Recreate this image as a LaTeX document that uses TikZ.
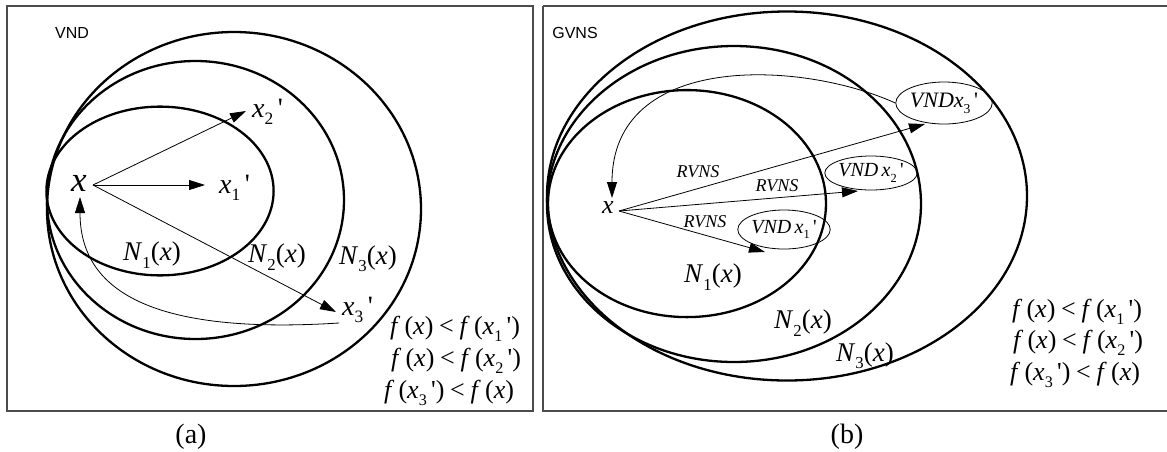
\documentclass[tikz,border=0pt]{standalone}
\usepackage{fontspec}
\usepackage{graphicx}
\setmainfont{Liberation Serif}
\newfontfamily\arialf{Liberation Sans}
\usetikzlibrary{arrows.meta,shapes.geometric}
\newcommand{\ix}{\textit{x}}
\newcommand{\ff}{\textit{f}}
\newcommand{\pr}{\textquotesingle}
\newcommand{\sbs}[1]{\raisebox{-0.27em}{\scalebox{0.62}{#1}}}
\newcommand{\fs}[1]{\fontsize{#1}{#1}\selectfont}
\newcommand{\lt}{\hspace{0.22em}<\hspace{0.22em}}
\begin{document}
\begin{tikzpicture}[x=1pt,y=-1pt,
  panel/.style={draw=black!70, line width=1.3pt},
  nbhd/.style={draw=black, line width=2.3pt},
  arr/.style={draw=black, line width=0.8pt, -{Triangle[length=16pt,width=10pt]}},
  lab/.style={inner sep=0pt, font=\fs{27}},
  form/.style={inner sep=0pt, font=\fs{26}},
  ttl/.style={inner sep=0pt, font=\arialf\fs{16}},
  captxt/.style={inner sep=0pt, font=\fs{28}},
  vnd/.style={draw=black, line width=0.8pt, ellipse, inner sep=0pt, minimum width=73pt, minimum height=39pt, font=\fs{20}},
  rvns/.style={inner sep=0pt, font=\itshape\fs{18}}]
\useasboundingbox (0,0) rectangle (1167,451);
% ---------- panel (a)
\draw[panel] (7,6) rectangle (533,411);
\node[ttl] (vndt) at (72,33) {VND};
\draw[nbhd] (234,209) ellipse [x radius=187pt, y radius=177pt];
\draw[nbhd] (195.5,200) ellipse [x radius=148.5pt, y radius=139pt];
\draw[nbhd] (160,191) ellipse [x radius=113.6pt, y radius=84.4pt];
\node[inner sep=0pt, font=\fs{35}] (ax) at (79,183) {\ix};
\coordinate (ax0) at (93,185);
\coordinate (ax1t) at (205,185);
\coordinate (ax2t) at (246,111);
\coordinate (ax3t) at (336,312);
\coordinate (ax3s) at (339,323);
\coordinate (axr) at (80,197);
\node[inner sep=0pt, font=\fs{28}, anchor=west] (ax1) at (219,188) {\ix\sbs{1}\,\pr};
\node[inner sep=0pt, font=\fs{28}, anchor=west] (ax2) at (252,112) {\ix\sbs{2}\,\pr};
\node[inner sep=0pt, font=\fs{28}, anchor=west] (ax3) at (342,310) {\ix\sbs{3}\,\pr};
\draw[arr] (ax0) -- (ax1t);
\draw[arr] (ax0) -- (ax2t);
\draw[arr] (ax0) -- (ax3t);
\draw[arr] (ax3s) .. controls (150,335) and (80,290) .. (axr);
\node[lab] (an1) at (152,255) {\textit{N}\sbs{1}(\ix)};
\node[lab] (an2) at (277,257) {\textit{N}\sbs{2}(\ix)};
\node[lab] (an3) at (368,259) {\textit{N}\sbs{3}(\ix)};
\node[form] (af1) at (455,329) {\ff\,(\ix)\lt\ff\,(\ix\sbs{1}\,\pr)};
\node[form] (af2) at (456,361) {\ff\,(\ix)\lt\ff\,(\ix\sbs{2}\,\pr)};
\node[form] (af3) at (449,393) {\ff\,(\ix\sbs{3}\,\pr)\lt\ff\,(\ix)};
\node[captxt] (capa) at (191,437) {(a)};
% ---------- panel (b)
\draw[panel] (543,6) -- (1169,6) (543,6) -- (543,411) -- (1169,411);
\node[ttl] (gvt) at (575,33) {GVNS};
\draw[nbhd] (787,196) ellipse [x radius=240pt, y radius=184.5pt];
\draw[nbhd] (734,204) ellipse [x radius=187pt, y radius=158pt];
\draw[nbhd] (687,203.6) ellipse [x radius=139pt, y radius=113.5pt];
\node[inner sep=0pt, font=\fs{26}] (bx) at (608,208) {\ix};
\coordinate (bx0) at (619,211);
\coordinate (bxr) at (612,198);
\node[vnd, minimum width=75pt, minimum height=42pt, font=\fs{22}] (v3) at (944,103) {\textit{VNDx}\sbs{3}\,\pr};
\node[vnd, minimum height=34pt] (v2) at (871,173) {\textit{VND\,x}\sbs{2}\,\pr};
\node[vnd] (v1) at (784,229.5) {\textit{VND\,x}\sbs{1}\,\pr};
\coordinate (b3t) at (925,124);
\coordinate (b2t) at (858,191);
\coordinate (b1t) at (765,252);
\draw[arr] (bx0) -- (b3t);
\draw[arr] (bx0) -- (b2t);
\draw[arr] (bx0) -- (b1t);
\draw[arr] (v3.west) .. controls (800,60) and (612,52) .. (bxr);
\node[rvns] (r1) at (698,172) {RVNS};
\node[rvns] (r2) at (777,186) {RVNS};
\node[rvns] (r3) at (705,222) {RVNS};
\node[lab] (bn1) at (713,277) {\textit{N}\sbs{1}(\ix)};
\node[lab] (bn2) at (803,323) {\textit{N}\sbs{2}(\ix)};
\node[lab] (bn3) at (865,356) {\textit{N}\sbs{3}(\ix)};
\node[form] (bf1) at (1077,312) {\ff\,(\ix)\lt\ff\,(\ix\sbs{1}\,\pr)};
\node[form] (bf2) at (1078,343) {\ff\,(\ix)\lt\ff\,(\ix\sbs{2}\,\pr)};
\node[form] (bf3) at (1075,375) {\ff\,(\ix\sbs{3}\,\pr)\lt\ff\,(\ix)};
\node[captxt] (capb) at (847,437) {(b)};
\end{tikzpicture}
\end{document}
